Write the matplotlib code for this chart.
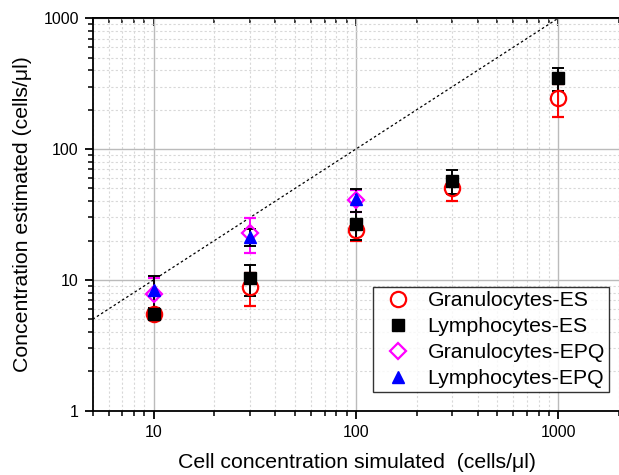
import numpy as np
import matplotlib
matplotlib.use('Agg')
import matplotlib.pyplot as plt
from matplotlib.lines import Line2D
from matplotlib.ticker import LogLocator, NullFormatter, FixedLocator, FixedFormatter

plt.rcParams['font.family'] = ['Liberation Sans', 'DejaVu Sans']

# ===== DATA =====
conc = [10, 30, 100, 300, 1000]
conc_epq = [10, 30, 100]

gran_es = [5.5, 8.8, 24, 50, 245]
gran_es_err = [0.5, 2.5, 4.0, 10, 70]

lymph_es = [5.5, 10.3, 26.8, 57, 347]
lymph_es_err = [0.5, 2.8, 6.5, 12, 71]

gran_epq = [7.8, 22.9, 40.9]
gran_epq_err = [2.6, 6.9, 8.0]

lymph_epq = [8.4, 21.3, 41.5]
lymph_epq_err = [2.3, 3.1, 8.2]

labels = ['Granulocytes-ES', 'Lymphocytes-ES', 'Granulocytes-EPQ', 'Lymphocytes-EPQ']
# ===== END DATA =====

W, H = 619, 475
fig = plt.figure(figsize=(W / 100, H / 100), dpi=100)
ax = fig.add_axes([92.7 / W, 1 - 410.7 / H, (W + 2 - 92.7) / W, (410.7 - 18.3) / H])

ax.set_xscale('log')
ax.set_yscale('log')
ax.set_xlim(5, 2000 * (10 ** (2 / 201.7)))
ax.set_ylim(1, 1000)

# grid
ax.grid(True, which='major', color='#bbbbbb', linestyle='-', linewidth=1.0)
ax.grid(True, which='minor', color='#d8d8d8', linestyle=(0, (2, 2)), linewidth=0.8)
ax.set_axisbelow(True)

# y = x reference line
ax.plot([5, 1000], [5, 1000], color='black', linestyle=(0, (2, 2)), linewidth=0.9, zorder=2)

ekw = dict(linestyle='none', capsize=4.5, elinewidth=1.4, capthick=1.4, zorder=3)
ax.errorbar(conc, gran_es, yerr=gran_es_err, marker='o', markersize=11,
            markerfacecolor='none', markeredgecolor='red', markeredgewidth=1.6,
            ecolor='red', **ekw)
ax.errorbar(conc, lymph_es, yerr=lymph_es_err, marker='s', markersize=8.5,
            color='black', ecolor='black', **ekw)
ax.errorbar(conc_epq, gran_epq, yerr=gran_epq_err, marker='D', markersize=8,
            markerfacecolor='none', markeredgecolor='magenta', markeredgewidth=1.6,
            ecolor='magenta', **ekw)
ax.errorbar(conc_epq, lymph_epq, yerr=lymph_epq_err, marker='^', markersize=8.5,
            color='blue', ecolor='black', **ekw)

# spines / ticks
ax.spines['right'].set_visible(False)
for s in ['left', 'bottom', 'top']:
    ax.spines[s].set_linewidth(1.3)
ax.xaxis.set_major_locator(FixedLocator([10, 100, 1000]))
ax.xaxis.set_major_formatter(FixedFormatter(['10', '100', '1000']))
ax.xaxis.set_minor_locator(LogLocator(base=10, subs=np.arange(2, 10)))
ax.xaxis.set_minor_formatter(NullFormatter())
ax.yaxis.set_major_locator(FixedLocator([1, 10, 100, 1000]))
ax.yaxis.set_major_formatter(FixedFormatter(['1', '10', '100', '1000']))
ax.yaxis.set_minor_locator(LogLocator(base=10, subs=np.arange(2, 10)))
ax.yaxis.set_minor_formatter(NullFormatter())
ax.tick_params(which='major', direction='out', length=6, width=1.3, labelsize=11.5, pad=4)
ax.tick_params(which='minor', direction='out', length=3.5, width=1.1)
ax.tick_params(axis='y', which='both', right=False)

# top spine ticks point inward
top = ax.secondary_xaxis('top')
top.set_xscale('log')
top.xaxis.set_major_locator(FixedLocator([10, 100, 1000]))
top.xaxis.set_minor_locator(LogLocator(base=10, subs=np.arange(2, 10)))
top.xaxis.set_major_formatter(NullFormatter())
top.xaxis.set_minor_formatter(NullFormatter())
top.tick_params(which='major', direction='in', length=6, width=1.3)
top.tick_params(which='minor', direction='in', length=3.5, width=1.1)
top.spines['top'].set_linewidth(1.3)

ax.set_xlabel('Cell concentration simulated  (cells/\u03bcl)', fontsize=15.3, labelpad=10)
ax.set_ylabel('Concentration estimated (cells/\u03bcl)', fontsize=15.3, labelpad=8)

# legend with markers only
handles = [
    Line2D([], [], linestyle='none', marker='o', markersize=11, markerfacecolor='none',
           markeredgecolor='red', markeredgewidth=1.6),
    Line2D([], [], linestyle='none', marker='s', markersize=8.5, color='black'),
    Line2D([], [], linestyle='none', marker='D', markersize=8, markerfacecolor='none',
           markeredgecolor='magenta', markeredgewidth=1.6),
    Line2D([], [], linestyle='none', marker='^', markersize=8.5, color='blue'),
]
leg = ax.legend(handles, labels, loc='upper left',
                bbox_to_anchor=(372.7 / W, 1 - 286.7 / H), bbox_transform=fig.transFigure,
                borderaxespad=0, fontsize=15.3, frameon=True, fancybox=False,
                handletextpad=0.39, labelspacing=0.33, borderpad=0.2, handlelength=2.0)
leg.get_frame().set_edgecolor('black')
leg.get_frame().set_linewidth(1.0)

fig.savefig('out.png', dpi=100)
